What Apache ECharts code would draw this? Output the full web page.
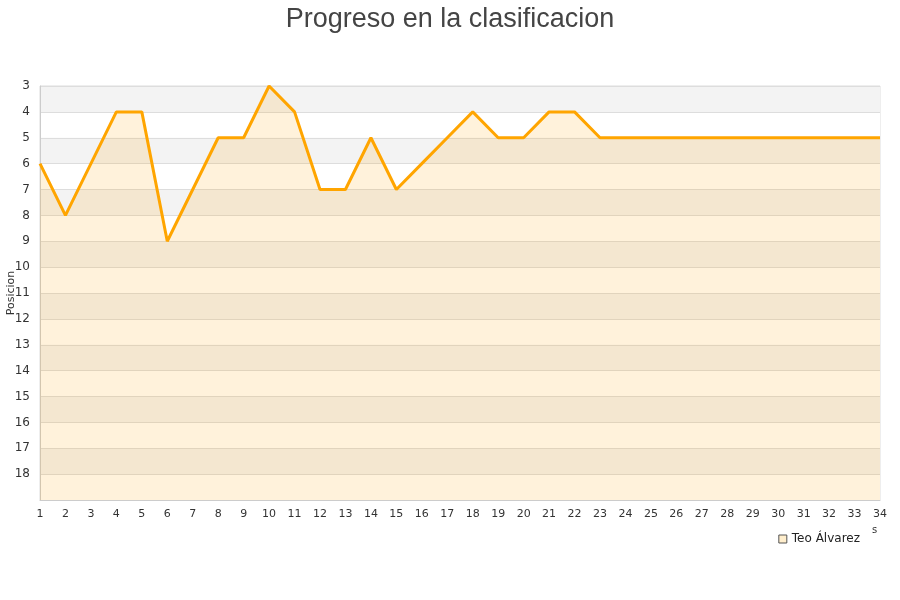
<!DOCTYPE html>
<html>
<head>
<meta charset="utf-8">
<script src="https://cdn.jsdelivr.net/npm/echarts@6/dist/echarts.min.js"></script>
<style>html,body{margin:0;padding:0;background:#fff}#c{width:900px;height:600px}</style>
</head>
<body>
<div id="c"></div>
<script>
const jornadas = [1,2,3,4,5,6,7,8,9,10,11,12,13,14,15,16,17,18,19,20,21,22,23,24,25,26,27,28,29,30,31,32,33,34];
const posiciones = [6,8,6,4,4,9,7,5,5,3,4,7,7,5,7,6,5,4,5,5,4,4,5,5,5,5,5,5,5,5,5,5,5,5];
const yTicks = [3,4,5,6,7,8,9,10,11,12,13,14,15,16,17,18];
const seriesName = 'Teo Álvarez';

const chart = echarts.init(document.getElementById('c'), null, {renderer:'canvas'});
chart.setOption({
  animation:false,
  backgroundColor:'#fff',
  title:{text:'Progreso en la clasificacion', left:'center', top:1,
    textStyle:{fontFamily:'Liberation Sans, Arial, sans-serif', fontSize:27, fontWeight:'normal', color:'#444'}},
  grid:{left:40, right:20, top:86, bottom:100, containLabel:false, outerBoundsMode:'none',
    show:true, borderColor:'#ddd', borderWidth:1, backgroundColor:'transparent'},
  legend:{right:35, bottom:50, icon:'rect', itemWidth:8, itemHeight:8, itemGap:10,
    textStyle:{fontFamily:'DejaVu Sans, sans-serif', fontSize:12, color:'#222'},
    data:[{name:seriesName, itemStyle:{color:'#ffeecc', borderColor:'#555', borderWidth:1}}]},
  xAxis:{type:'category', data:jornadas, boundaryGap:false,
    axisLine:{lineStyle:{color:'#ccc'}}, axisTick:{show:false},
    axisLabel:{color:'#333', fontSize:11, fontFamily:'DejaVu Sans, sans-serif', margin:9, interval:0},
    splitLine:{show:false}},
  yAxis:{type:'value', inverse:true, min:3, max:19, interval:1,
    name:'Posicion', nameLocation:'middle', nameGap:23, nameMoveOverlap:false,
    nameTextStyle:{color:'#333', fontSize:11, fontFamily:'DejaVu Sans, sans-serif'},
    axisLine:{show:true, lineStyle:{color:'#ccc'}}, axisTick:{show:false},
    axisLabel:{color:'#333', fontSize:12, fontFamily:'DejaVu Sans, sans-serif', margin:10,
      formatter:v=> yTicks.includes(v) ? String(v) : ''},
    splitLine:{show:true, lineStyle:{color:'#ddd'}},
    splitArea:{show:true, areaStyle:{color:['#f3f3f3','#ffffff']}}},
  graphic:[{type:'text', left:872, top:525, style:{text:'s', fontSize:10, fill:'#333', fontFamily:'DejaVu Sans, sans-serif'}}],
  series:[{name:seriesName, type:'line', data:posiciones, showSymbol:false, symbol:'none',
    lineStyle:{color:'#FFA500', width:3}, itemStyle:{color:'#FFA500'},
    areaStyle:{color:'rgba(255,165,0,0.2)', origin:'end'}}]
});
</script>
</body>
</html>
